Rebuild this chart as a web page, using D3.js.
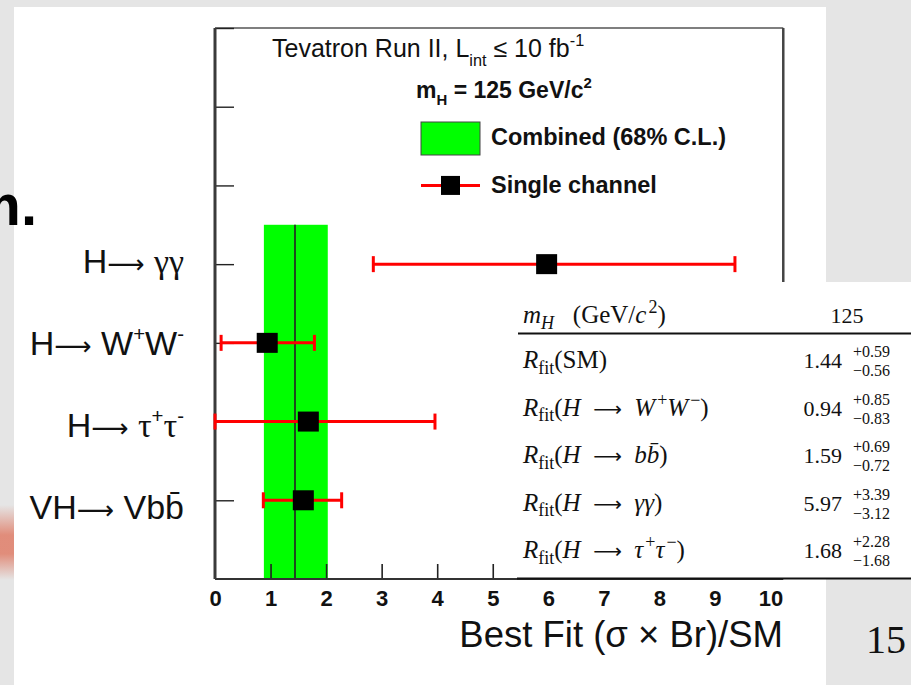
<!DOCTYPE html>
<html><head><meta charset="utf-8">
<script src="https://cdn.jsdelivr.net/npm/d3@7"></script>
<style>html,body{margin:0;padding:0;background:#e5e5e5;overflow:hidden}</style>
</head><body><svg id="c" width="911" height="685"></svg>
<script>
// ---------------- data ----------------
const channels = ["H⟶ γγ", "H⟶ W^{+}W^{-}", "H⟶ τ^{+}τ^{-}", "VH⟶ Vbb̄"];
const rowPos   = [4, 3, 2, 1];
const central  = [5.97, 0.94, 1.68, 1.59];
const errUp    = [3.39, 0.85, 2.28, 0.69];
const errDown  = [3.12, 0.83, 1.68, 0.72];
const combCentral = 1.44, combUp = 0.59, combDown = 0.56;
const xTickValues = [0, 1, 2, 3, 4, 5, 6, 7, 8, 9, 10];
const yTickValues = [1, 2, 3, 4, 5, 6, 7];
const massValue = "125";
const tableLabels = ["*R*_{fit}(SM)", "*R*_{fit}(*H*  ⟶  *W*^{+}*W*^{−})", "*R*_{fit}(*H*  ⟶  *bb̄*)", "*R*_{fit}(*H*  ⟶  *γγ*)", "*R*_{fit}(*H*  ⟶  *τ*^{+}*τ*^{−})"];
const tableIndex  = [-1, 1, 3, 0, 2];   // -1 = combined fit
const legendTitle = "Tevatron Run II, L_{int} ≤ 10 fb^{-1}";
const legendMass  = "m_{H} = 125 GeV/c^{2}";
const legendItems = ["Combined (68% C.L.)", "Single channel"];
const xTitle = "Best Fit (σ × Br)/SM";

// ---------------- helpers ----------------
function rich(sel, str, fs, opt = {}) {
  const parts = str.split(/(\^\{[^}]*\}|_\{[^}]*\})/).filter(s => s.length);
  let cur = 0;
  parts.forEach(p => {
    let kind = "n", t = p;
    if (p.startsWith("^{")) { kind = "sup"; t = p.slice(2, -1); }
    else if (p.startsWith("_{")) { kind = "sub"; t = p.slice(2, -1); }
    const sub = t.split(/(\*[^*]*\*)/).filter(s => s.length);
    sub.forEach(q => {
      let it = false, tt = q;
      if (q.startsWith("*") && q.endsWith("*") && q.length > 1) { it = true; tt = q.slice(1, -1); }
      const pieces = tt.split(/(⟶|[α-ω]+)/).filter(s => s.length);
      pieces.forEach(pc => {
        const off = kind === "sub" ? fs * (opt.subShift || 0.3) : kind === "sup" ? -fs * (opt.supShift || 0.42) : 0;
        const ts = sel.append("tspan").text(pc).attr("dy", off - cur);
        cur = off;
        if (kind !== "n") ts.attr("font-size", fs * (opt.scale || 0.65));
        if (kind === "sup" && opt.supDx) ts.attr("dx", opt.supDx);
        if (it) ts.attr("font-style", "italic");
        if (pc === "⟶" && opt.arrowFont) {
          ts.attr("font-family", opt.arrowFont).attr("font-style", "normal");
          if (opt.arrowSize) ts.attr("font-size", opt.arrowSize);
        }
        if (/^[α-ω]+$/.test(pc) && opt.greekFont) ts.attr("font-family", opt.greekFont);
      });
    });
  });
  return sel;
}

const sans = "Liberation Sans, Arial, sans-serif";
const serif = "Liberation Serif, Times New Roman, serif";
const svg = d3.select("#c");
// slide background
svg.append("rect").attr("width", 911).attr("height", 685).attr("fill", "#e5e5e5");
svg.append("rect").attr("x", 14).attr("y", 7).attr("width", 812).attr("height", 678).attr("fill", "#fff");
const grad = svg.append("defs").append("linearGradient").attr("id", "sal").attr("x1", 0).attr("x2", 0).attr("y1", 0).attr("y2", 1);
[[0, 0], [0.4, 0.9], [0.65, 0.9], [1, 0]].forEach(([o, a]) => grad.append("stop").attr("offset", o).attr("stop-color", "#e0836f").attr("stop-opacity", a));
svg.append("rect").attr("x", 0).attr("y", 505).attr("width", 14).attr("height", 75).attr("fill", "url(#sal)");
svg.append("text").attr("x", 37).attr("y", 225).attr("text-anchor", "end")
  .attr("font-family", sans).attr("font-weight", "bold").attr("font-size", 58).attr("fill", "#000").text("m.");

// ---------------- chart ----------------
const x = d3.scaleLinear().domain([0, 10]).range([215, 770.5]);
const y = d3.scaleLinear().domain([0, 7]).range([579, 28]);
const labelY = d3.scaleLinear().domain([4, 1]).range([273, 519]);
const xMax = 10.23;
const g = svg.append("g");

// combined band
g.append("rect").attr("x", x(combCentral - combDown)).attr("width", x(combCentral + combUp) - x(combCentral - combDown))
  .attr("y", y(4.5)).attr("height", y(0) - y(4.5)).attr("fill", "#00ff00");
g.append("line").attr("x1", x(combCentral)).attr("x2", x(combCentral)).attr("y1", y(4.5)).attr("y2", y(0))
  .attr("stroke", "#1e4a1e").attr("stroke-width", 2);

// frame
g.append("line").attr("x1", x(0)).attr("x2", x(xMax)).attr("y1", y(7)).attr("y2", y(7)).attr("stroke", "#555").attr("stroke-width", 1.6);
g.append("line").attr("x1", x(xMax)).attr("x2", x(xMax)).attr("y1", y(7)).attr("y2", y(0)).attr("stroke", "#444").attr("stroke-width", 2.5);

// axes
const xa = g.append("g").attr("transform", `translate(0,${y(0)})`)
  .call(d3.axisBottom(x).tickValues(xTickValues).tickSize(-15).tickPadding(11).tickFormat(d3.format("d")));
xa.select(".domain").remove();
xa.selectAll(".tick line").attr("stroke", "#222").attr("stroke-width", 1.6);
xa.selectAll(".tick text").attr("font-family", sans).attr("font-weight", "bold").attr("font-size", 22).attr("fill", "#111");
xa.selectAll(".tick").filter(d => d === 0).select("line").remove();

const ya = g.append("g").attr("transform", `translate(${x(0)},0)`)
  .call(d3.axisLeft(y).tickValues(yTickValues).tickSize(-19).tickFormat(""));
ya.select(".domain").remove();
ya.selectAll(".tick line").attr("stroke", "#222").attr("stroke-width", 1.4);

g.append("line").attr("x1", x(0)).attr("x2", x(xMax)).attr("y1", y(0)).attr("y2", y(0)).attr("stroke", "#333").attr("stroke-width", 2.2);
g.append("line").attr("x1", x(0)).attr("x2", x(0)).attr("y1", y(7)).attr("y2", y(0)).attr("stroke", "#3a3a3a").attr("stroke-width", 3);

// error bars + markers
const pts = channels.map((c, i) => ({ c, r: rowPos[i], v: central[i], lo: central[i] - errDown[i], hi: central[i] + errUp[i] }));
const eb = g.selectAll(".eb").data(pts).enter().append("g");
eb.append("line").attr("x1", d => x(d.lo)).attr("x2", d => x(d.hi)).attr("y1", d => y(d.r)).attr("y2", d => y(d.r)).attr("stroke", "#ff0000").attr("stroke-width", 3);
eb.append("line").attr("x1", d => x(d.lo)).attr("x2", d => x(d.lo)).attr("y1", d => y(d.r) - 8).attr("y2", d => y(d.r) + 8).attr("stroke", "#ff0000").attr("stroke-width", 3);
eb.append("line").attr("x1", d => x(d.hi)).attr("x2", d => x(d.hi)).attr("y1", d => y(d.r) - 8).attr("y2", d => y(d.r) + 8).attr("stroke", "#ff0000").attr("stroke-width", 3);
eb.append("rect").attr("x", d => x(d.v) - 10.5).attr("y", d => y(d.r) - 10).attr("width", 21).attr("height", 20).attr("fill", "#000");

// category labels
pts.forEach(d => {
  rich(g.append("text").attr("x", 184).attr("y", labelY(d.r)).attr("text-anchor", "end")
    .attr("font-family", sans).attr("font-size", 34).attr("fill", "#111"), d.c, 34,
    { scale: 0.6, supShift: 0.4, arrowFont: "DejaVu Sans, sans-serif", arrowSize: 26, greekFont: serif });
});

// legend
rich(g.append("text").attr("x", 272).attr("y", 57).attr("font-family", sans).attr("font-size", 25).attr("fill", "#111"), legendTitle, 25, { subShift: 0.35, supShift: 0.45 });
rich(g.append("text").attr("x", 416).attr("y", 98).attr("font-family", sans).attr("font-weight", "bold").attr("font-size", 23).attr("fill", "#111"), legendMass, 23, { subShift: 0.3 });
g.append("rect").attr("x", 421).attr("y", 122).attr("width", 59).attr("height", 33).attr("fill", "#00ff00").attr("stroke", "#444").attr("stroke-width", 1);
g.append("text").attr("x", 491).attr("y", 145).attr("font-family", sans).attr("font-weight", "bold").attr("font-size", 23.5).attr("fill", "#111").text(legendItems[0]);
g.append("line").attr("x1", 421).attr("x2", 480).attr("y1", y(5)).attr("y2", y(5)).attr("stroke", "#ff0000").attr("stroke-width", 3);
g.append("rect").attr("x", 441).attr("y", y(5) - 9.5).attr("width", 19).attr("height", 19).attr("fill", "#000");
g.append("text").attr("x", 491).attr("y", 193).attr("font-family", sans).attr("font-weight", "bold").attr("font-size", 23.5).attr("fill", "#111").text(legendItems[1]);

// x title
g.append("text").attr("x", 783).attr("y", 647).attr("text-anchor", "end").attr("font-family", sans).attr("font-size", 36.5).attr("fill", "#111").text(xTitle);

// ---------------- table overlay ----------------
const tb = svg.append("g");
tb.append("rect").attr("x", 517).attr("y", 282).attr("width", 394).attr("height", 296).attr("fill", "#fff");
const tOpt = { scale: 0.72, subShift: 0.22, supShift: 0.4, supDx: 2, arrowFont: "DejaVu Sans, sans-serif", arrowSize: 20 };
rich(tb.append("text").attr("x", 523).attr("y", 323).attr("font-family", serif).attr("font-size", 25).attr("fill", "#111").attr("xml:space", "preserve"), "*m*_{*H*}   (GeV/*c*^{2})", 25, tOpt);
tb.append("text").attr("x", 847).attr("y", 323).attr("text-anchor", "middle").attr("font-family", serif).attr("font-size", 22).attr("fill", "#111").text(massValue);
tb.append("line").attr("x1", 518).attr("x2", 911).attr("y1", 333.5).attr("y2", 333.5).attr("stroke", "#111").attr("stroke-width", 2);
tb.append("line").attr("x1", 517).attr("x2", 911).attr("y1", 578.5).attr("y2", 578.5).attr("stroke", "#111").attr("stroke-width", 2);

const rowY = d3.scaleLinear().domain([0, 4]).range([368, 558]);
tableIndex.forEach((ci, k) => {
  const v = ci < 0 ? combCentral : central[ci];
  const up = ci < 0 ? combUp : errUp[ci];
  const dn = ci < 0 ? combDown : errDown[ci];
  const yy = rowY(k);
  rich(tb.append("text").attr("x", 523).attr("y", yy).attr("font-family", serif).attr("font-size", 25).attr("fill", "#111").attr("xml:space", "preserve"), tableLabels[k], 25, tOpt);
  tb.append("text").attr("x", 842).attr("y", yy).attr("text-anchor", "end").attr("font-family", serif).attr("font-size", 22).attr("fill", "#111").text(v.toFixed(2));
  tb.append("text").attr("x", 890).attr("y", yy - 11).attr("text-anchor", "end").attr("font-family", serif).attr("font-size", 16).attr("fill", "#111").text("+" + up.toFixed(2));
  tb.append("text").attr("x", 890).attr("y", yy + 8).attr("text-anchor", "end").attr("font-family", serif).attr("font-size", 16).attr("fill", "#111").text("−" + dn.toFixed(2));
});

// page number
svg.append("text").attr("x", 866).attr("y", 653).attr("font-family", serif).attr("font-size", 40).attr("fill", "#111").text("15");
</script></body></html>
